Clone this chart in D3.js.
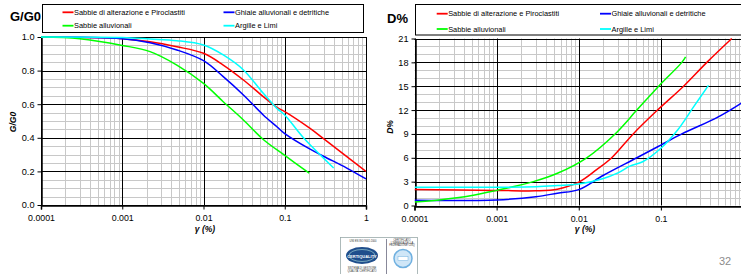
<!DOCTYPE html>
<html><head><meta charset="utf-8">
<script src="https://cdn.jsdelivr.net/npm/d3@7"></script>
<style>
html,body{margin:0;padding:0;background:#fff;}
svg{display:block;font-family:"Liberation Sans",Arial,sans-serif;}
</style></head>
<body><svg id="c" width="741" height="274"></svg>
<script>
// ---------- data ----------
const gammaTicks = [0.0001, 0.001, 0.01, 0.1, 1];
const gammaTickLabels = ["0.0001", "0.001", "0.01", "0.1", "1"];
const ggTicks = [0, 0.2, 0.4, 0.6, 0.8, 1.0];
const ggTickLabels = ["0.0", "0.2", "0.4", "0.6", "0.8", "1.0"];
const dTicks = [0, 3, 6, 9, 12, 15, 18, 21];
const dTickLabels = ["0", "3", "6", "9", "12", "15", "18", "21"];
const seriesNames = ["Sabbie di alterazione e Piroclastiti", "Ghiaie alluvionali e detritiche", "Sabbie alluvionali", "Argille e Limi"];

// G/G0 curves [gamma %, G/G0]
const ggSabbieAlterazione = [[0.0001,1.0],[0.001,0.99],[0.0022,0.972],[0.0047,0.942],[0.01,0.903],[0.0175,0.833],[0.031,0.744],[0.0544,0.645],[0.08,0.581],[0.1,0.556],[0.205,0.456],[0.3,0.395],[1,0.2]];
const ggGhiaie = [[0.0001,1.0],[0.001,0.99],[0.0022,0.966],[0.0047,0.923],[0.01,0.859],[0.0175,0.764],[0.031,0.655],[0.0544,0.536],[0.08,0.466],[0.1,0.425],[0.2,0.335],[0.3,0.29],[0.58,0.22],[1,0.155]];
const ggSabbieAlluvionali = [[0.0001,1.0],[0.0003,0.99],[0.001,0.95],[0.0022,0.913],[0.0047,0.833],[0.01,0.724],[0.0175,0.615],[0.031,0.506],[0.0544,0.39],[0.1,0.295],[0.2,0.19]];
const ggArgille = [[0.0001,1.0],[0.001,0.997],[0.0022,0.988],[0.0047,0.978],[0.01,0.952],[0.0175,0.893],[0.031,0.804],[0.0544,0.665],[0.08,0.575],[0.1,0.536],[0.17,0.4],[0.4,0.22]];

// D% curves [gamma %, D%]
const dSabbieAlterazione = [[0.0001,2.0],[0.001,1.9],[0.003,1.85],[0.0055,2.05],[0.01,2.93],[0.0165,4.5],[0.0252,6],[0.046,9],[0.091,12],[0.189,15],[0.363,18],[0.73,21]];
const dGhiaie = [[0.0001,0.65],[0.001,0.7],[0.003,1.1],[0.0055,1.55],[0.01,2.0],[0.02,3.8],[0.051,6.0],[0.1,7.6],[0.18,9.0],[0.45,10.9],[0.7,12.0],[1,13.0]];
const dSabbieAlluvionali = [[0.0001,0.45],[0.0002,0.7],[0.0005,1.25],[0.001,1.9],[0.0028,3.0],[0.0055,4.05],[0.0125,6],[0.0277,9],[0.051,12],[0.094,15],[0.18,18],[0.2,18.7]];
const dArgille = [[0.0001,2.3],[0.001,2.3],[0.003,2.35],[0.0055,2.5],[0.01,2.7],[0.02,3.4],[0.03,4.1],[0.042,4.95],[0.06,5.5],[0.1,7.2],[0.16,9.5],[0.25,12.4],[0.38,15.1]];

// ---------- styles ----------
const colors = ["#ff0000", "#0000ff", "#00ff00", "#00ffff"];
const svg = d3.select("#c");

function minorGamma() {
  const out = [];
  for (let e = -4; e < 0; e++) for (let k = 2; k <= 9; k++) out.push(k * Math.pow(10, e));
  return out;
}

function drawPanel(cfg) {
  const x = d3.scaleLog().domain([0.0001, 1]).range([cfg.x0, cfg.x1]);
  const y = d3.scaleLinear().domain([0, cfg.ymax]).range([cfg.yb, cfg.yt]);
  const g = svg.append("g");
  const right = Math.min(cfg.x1, 741);
  const clipId = "clip" + cfg.id;
  svg.append("clipPath").attr("id", clipId).append("rect")
    .attr("x", cfg.x0).attr("y", cfg.yt - 2).attr("width", cfg.x1 - cfg.x0).attr("height", cfg.yb - cfg.yt + 4);

  g.selectAll(".hm").data(d3.range(0, cfg.ymax + 1e-9, cfg.minorStep)).join("line")
    .attr("x1", cfg.x0).attr("x2", right)
    .attr("y1", d => Math.round(y(d)) + 0.5).attr("y2", d => Math.round(y(d)) + 0.5)
    .attr("stroke", "#c8c8c8").attr("stroke-width", 1);
  g.selectAll(".vm").data(minorGamma()).join("line")
    .attr("x1", d => Math.round(x(d)) + 0.5).attr("x2", d => Math.round(x(d)) + 0.5)
    .attr("y1", cfg.yt).attr("y2", cfg.yb)
    .attr("stroke", "#c8c8c8").attr("stroke-width", 1);
  g.selectAll(".hM").data(cfg.yTicks).join("line")
    .attr("x1", cfg.x0).attr("x2", right)
    .attr("y1", d => Math.round(y(d)) + 0.5).attr("y2", d => Math.round(y(d)) + 0.5)
    .attr("stroke", "#000").attr("stroke-width", 1);
  g.selectAll(".vM").data(gammaTicks).join("line")
    .attr("x1", d => Math.round(x(d)) + 0.5).attr("x2", d => Math.round(x(d)) + 0.5)
    .attr("y1", cfg.yt).attr("y2", cfg.yb)
    .attr("stroke", "#000").attr("stroke-width", 1);

  const xAxis = d3.axisBottom(x).tickValues(gammaTicks).tickFormat((d, i) => gammaTickLabels[i]).tickSize(4).tickPadding(5);
  const gx = svg.append("g").attr("transform", `translate(0,${Math.round(cfg.yb) + 0.5})`).call(xAxis);
  gx.select(".domain").attr("stroke", "#000").attr("stroke-width", 1.5);
  gx.selectAll("text").attr("font-size", "8.8px").attr("fill", "#000").attr("font-family", "Liberation Sans, Arial, sans-serif");
  const yAxis = d3.axisLeft(y).tickValues(cfg.yTicks).tickFormat((d, i) => cfg.yLabels[i]).tickSize(4).tickPadding(3).tickSizeOuter(0);
  const gy = svg.append("g").attr("transform", `translate(${Math.round(cfg.x0) + 0.5},0)`).call(yAxis);
  gy.select(".domain").attr("stroke", "#000").attr("stroke-width", 1.5);
  gy.selectAll("text").attr("font-size", "9.2px").attr("fill", "#000").attr("font-family", "Liberation Sans, Arial, sans-serif");

  const line = d3.line().x(d => x(d[0])).y(d => y(d[1])).curve(d3.curveCatmullRom.alpha(0.5));
  svg.append("g").attr("clip-path", `url(#${clipId})`).selectAll("path").data(cfg.series).join("path")
    .attr("d", d => line(d)).attr("fill", "none")
    .attr("stroke", (d, i) => colors[i]).attr("stroke-width", 1.5);

  const lg = svg.append("g");
  lg.append("rect").attr("x", cfg.leg.x + 0.5).attr("y", cfg.leg.y + 0.5).attr("width", cfg.leg.w).attr("height", cfg.leg.h)
    .attr("fill", "#fff").attr("stroke", "#000").attr("stroke-width", 1);
  seriesNames.forEach((name, i) => {
    const col = i % 2, row = Math.floor(i / 2);
    const lx = cfg.leg.cols[col], ly = cfg.leg.rows[row];
    lg.append("line").attr("x1", lx).attr("x2", lx + 11).attr("y1", ly).attr("y2", ly)
      .attr("stroke", colors[i]).attr("stroke-width", 1.8);
    lg.append("text").attr("x", lx + 11.5).attr("y", ly + 2.6).attr("font-size", "7.4px").attr("fill", "#000").text(name);
  });

  svg.append("text").attr("x", cfg.title.x).attr("y", cfg.title.y).attr("font-size", "13px").attr("font-weight", "bold").text(cfg.title.text);
  svg.append("text").attr("transform", `translate(${cfg.ytitle.x},${cfg.ytitle.y}) rotate(-90)`)
    .attr("text-anchor", "middle").attr("font-size", "8.5px").attr("font-weight", "bold").attr("font-style", "italic").text(cfg.ytitle.text);
  svg.append("text").attr("x", cfg.xtitle.x).attr("y", cfg.xtitle.y).attr("text-anchor", "middle")
    .attr("font-size", "8.5px").attr("font-weight", "bold").attr("font-style", "italic").text("γ (%)");
}

drawPanel({
  id: "L", x0: 41, x1: 366, yt: 37, yb: 205, ymax: 1, minorStep: 0.05,
  yTicks: ggTicks, yLabels: ggTickLabels,
  series: [ggSabbieAlterazione, ggGhiaie, ggSabbieAlluvionali, ggArgille],
  leg: { x: 42, y: 4, w: 321, h: 28, cols: [62.5, 223.5], rows: [12.3, 25.7] },
  title: { x: 10, y: 21, text: "G/G0" },
  ytitle: { x: 16, y: 122, text: "G/G0" },
  xtitle: { x: 205, y: 232 }
});
drawPanel({
  id: "R", x0: 414.5, x1: 743, yt: 38.5, yb: 205.5, ymax: 21, minorStep: 1,
  yTicks: dTicks, yLabels: dTickLabels,
  series: [dSabbieAlterazione, dGhiaie, dSabbieAlluvionali, dArgille],
  leg: { x: 415, y: 4, w: 340, h: 30.5, cols: [436.7, 600], rows: [13.7, 29] },
  title: { x: 387, y: 23, text: "D%" },
  ytitle: { x: 393, y: 127, text: "D%" },
  xtitle: { x: 585, y: 232 }
});

// logo
const logo = svg.append("g");
logo.append("rect").attr("x", 340.5).attr("y", 237.5).attr("width", 77).attr("height", 40).attr("fill", "#fff").attr("stroke", "#9aa").attr("stroke-width", 0.8);
logo.append("line").attr("x1", 386.5).attr("x2", 386.5).attr("y1", 239).attr("y2", 274).attr("stroke", "#889");
logo.append("ellipse").attr("cx", 362).attr("cy", 255.5).attr("rx", 16).attr("ry", 8.5).attr("fill", "#1f4e8c");
logo.append("ellipse").attr("cx", 362).attr("cy", 255.5).attr("rx", 13).attr("ry", 6).attr("fill", "none").attr("stroke", "#cfe").attr("stroke-width", 0.5);
logo.append("circle").attr("cx", 403).attr("cy", 258.5).attr("r", 9).attr("fill", "#cfe6f7").attr("stroke", "#6fb0e0").attr("stroke-width", 1.5);
logo.append("rect").attr("x", 398).attr("y", 256.5).attr("width", 10).attr("height", 4).attr("fill", "#fff").attr("stroke", "#6fb0e0").attr("stroke-width", 0.5);
[["UNI EN ISO 9001:2000", 363, 241.5], ["CERTIFICATO", 402, 241], ["L'IMPRESA DELLA", 402, 243.5], ["FEDERAZIONE CISQ", 402, 246], ["SISTEMA DI GESTIONE", 362, 268.5], ["QUALITA' CERTIFICATO", 362, 271.5]].forEach(t => {
  logo.append("text").attr("x", t[1]).attr("y", t[2]).attr("text-anchor", "middle").attr("font-size", "2.6px").attr("fill", "#333").text(t[0]);
});
logo.append("text").attr("x", 362).attr("y", 258).attr("text-anchor", "middle").attr("font-size", "4px").attr("font-weight", "bold").attr("fill", "#fff").text("CERTIQUALITY");

svg.append("text").attr("x", 725).attr("y", 265).attr("text-anchor", "middle").attr("font-size", "11px").attr("fill", "#8c8c8c").text("32");
</script></body></html>
